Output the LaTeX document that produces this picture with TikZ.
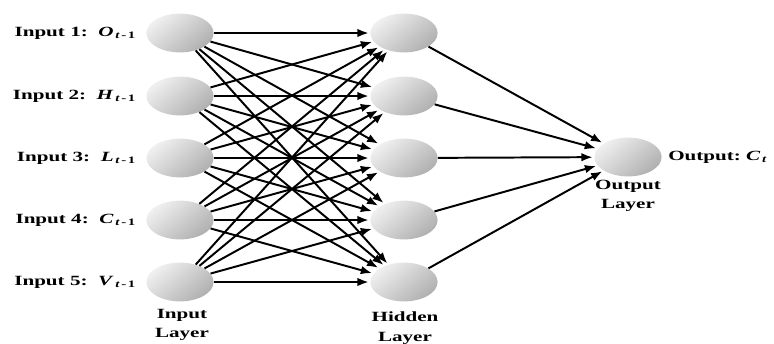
\documentclass[tikz,border=0pt]{standalone}
\usepackage{fontspec}
\setmainfont{Liberation Serif}[FakeStretch=1.5]
\usetikzlibrary{arrows.meta,shapes.geometric}

\newcommand{\prev}[1]{\textit{#1}\textsubscript{\,\textit{t}\,-\,1}}

\begin{document}
\begin{tikzpicture}[x=0.025cm,y=-0.025cm,
  neuron/.style={ellipse,minimum width=1.68cm,minimum height=0.97cm,inner sep=0pt,
    top color=gray!12,bottom color=gray!62,shading angle=40},
  lbl/.style={font=\bfseries\fontsize{10}{14}\selectfont},
  link/.style={-{Latex[length=8pt,width=6pt]},line width=1.4pt,shorten >=1pt}]
  \useasboundingbox (0,0) rectangle (774,343);
  % input layer
  \node[neuron] (i1) at (180,33) {};
  \node[neuron] (i2) at (180,96) {};
  \node[neuron] (i3) at (180,158) {};
  \node[neuron] (i4) at (180,220) {};
  \node[neuron] (i5) at (180,282) {};
  \node[lbl,anchor=east] (in1) at (141,33) {Input 1:\ \ \prev{O}};
  \node[lbl,anchor=east] (in2) at (141,96) {Input 2:\ \ \prev{H}};
  \node[lbl,anchor=east] (in3) at (141,158) {Input 3:\ \ \prev{L}};
  \node[lbl,anchor=east] (in4) at (141,220) {Input 4:\ \ \prev{C}};
  \node[lbl,anchor=east] (in5) at (141,282) {Input 5:\ \ \prev{V}};
  \node[lbl,align=center] (inlayer) at (182,325) {Input\\Layer};
  % hidden layer
  \node[neuron] (h1) at (404,33) {};
  \node[neuron] (h2) at (404,96) {};
  \node[neuron] (h3) at (404,158) {};
  \node[neuron] (h4) at (404,220) {};
  \node[neuron] (h5) at (404,282) {};
  \node[lbl,align=center] (hidlayer) at (405,328) {Hidden\\Layer};
  % output layer
  \node[neuron] (o) at (628,157) {};
  \node[lbl,anchor=west,inner sep=0pt] (out) at (668,157) {Output:\ \textit{C}\textsubscript{\,\textit{t}}};
  \node[lbl,align=center] (outlayer) at (628,196) {Output\\Layer};
  % weights
  \foreach \i in {1,...,5}
    \foreach \j in {1,...,5}
      \draw[link] (i\i) -- (h\j);
  \foreach \j in {1,...,5}
    \draw[link] (h\j) -- (o);
\end{tikzpicture}
\end{document}
